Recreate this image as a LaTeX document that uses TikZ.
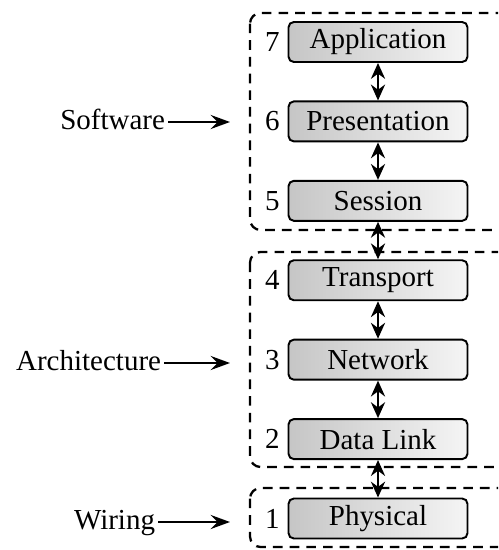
\documentclass[tikz,border=0pt]{standalone}
\usepackage{fontspec}
\setmainfont{Liberation Serif}
\usepackage{tikz}
\usetikzlibrary{arrows.meta,positioning}

\begin{document}
\begin{tikzpicture}[
  x=0.02cm, y=-0.02cm,
  font=\fontsize{16.5}{19}\selectfont,
  layer/.style={draw, line width=1.1pt, rounded corners=3pt, left color=gray!45, right color=gray!8,
    minimum width=3.58cm, minimum height=0.8cm, inner sep=2pt},
  grp/.style={draw, line width=1.3pt, dash pattern=on 5.5pt off 4pt, rounded corners=6pt},
  link/.style={{Stealth[length=9pt,width=8pt]}-{Stealth[length=9pt,width=8pt]}, line width=1.6pt},
  side/.style={anchor=east, inner sep=1.5pt, text height=0.9em, text depth=0pt},
  sarr/.style={-{Stealth[length=11pt,width=8pt,inset=4pt]}, line width=1.4pt}
]
\clip (0,0) rectangle (498,550);
% the seven layers
\node[layer] (app) at (378,42) {Application};
\node[layer, below=0.75cm of app] (pres) {Presentation};
\node[layer, below=0.75cm of pres] (sess) {Session};
\node[layer, below=0.75cm of sess] (trans) {Transport};
\node[layer, below=0.75cm of trans] (net) {Network};
\node[layer, below=0.75cm of net] (dlink) {Data Link};
\node[layer, below=0.75cm of dlink] (phys) {Physical};
\node[left=1pt of app] (n7) {7};
\node[left=1pt of pres] (n6) {6};
\node[left=1pt of sess] (n5) {5};
\node[left=1pt of trans] (n4) {4};
\node[left=1pt of net] (n3) {3};
\node[left=1pt of dlink] (n2) {2};
\node[left=1pt of phys] (n1) {1};
% groups
\draw[grp] (250,13) rectangle (540,230);
\draw[grp] (250,252) rectangle (540,467);
\draw[grp] (250,488) rectangle (540,547);
\draw[link] (app) -- (pres);
\draw[link] (pres) -- (sess);
\draw[link] (sess) -- (trans);
\draw[link] (trans) -- (net);
\draw[link] (net) -- (dlink);
\draw[link] (dlink) -- (phys);
% side labels
\node[side] (sw) at (168,122) {Software};
\node[side] (arch) at (164,363) {Architecture};
\node[side] (wire) at (158,522) {Wiring};
\coordinate (swend) at (230,122);
\coordinate (archend) at (230,363);
\coordinate (wireend) at (230,522);
\draw[sarr] (sw) -- (swend);
\draw[sarr] (arch) -- (archend);
\draw[sarr] (wire) -- (wireend);
\end{tikzpicture}
\end{document}
